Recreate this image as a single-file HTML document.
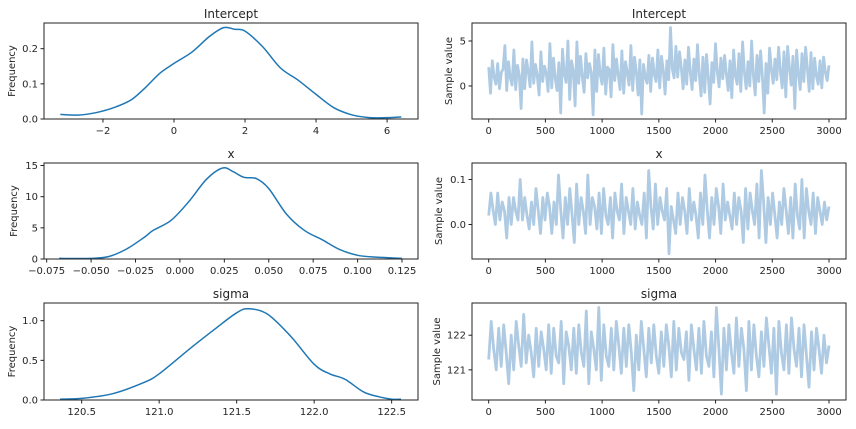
<!DOCTYPE html>
<html><head><meta charset="utf-8"><style>
body{margin:0;background:#fff;width:856px;height:424px;overflow:hidden}
svg text{font-family:"DejaVu Sans","Liberation Sans",sans-serif;fill:#262626}
</style></head><body>
<svg id="fig" width="856" height="424" xmlns="http://www.w3.org/2000/svg"></svg>
<script>
// KDE data
const kdeInterceptX=[-3.2,-2.7,-2.2,-1.7,-1.2,-0.8,-0.4,0,0.5,1,1.4,1.7,2,2.5,3,3.5,4,4.5,5,5.5,6,6.4];
const kdeInterceptY=[0.013,0.011,0.018,0.032,0.055,0.09,0.13,0.158,0.19,0.235,0.26,0.255,0.25,0.205,0.145,0.11,0.07,0.032,0.012,0.004,0.004,0.006];
const kdeXX=[-0.068,-0.05,-0.04,-0.03,-0.02,-0.015,-0.005,0.005,0.015,0.024,0.03,0.036,0.043,0.05,0.06,0.07,0.08,0.09,0.1,0.11,0.125];
const kdeXY=[0.1,0.1,0.4,1.6,3.5,4.6,6.2,9.2,12.8,14.6,14.0,13.1,12.9,11.3,7.2,4.6,3.1,1.5,0.6,0.3,0.1];
const kdeSigmaX=[120.36,120.5,120.7,120.9,121.0,121.2,121.35,121.5,121.58,121.7,121.85,122.0,122.1,122.2,122.32,122.42,122.5,122.56];
const kdeSigmaY=[0.01,0.02,0.08,0.22,0.33,0.65,0.88,1.1,1.15,1.08,0.8,0.45,0.33,0.26,0.1,0.04,0.01,0.01];
// Trace data (thinned samples)
const traceIntercept=[2.1,-0.8,2.8,1.0,0.2,2.5,-0.3,1.5,1.9,4.5,-0.5,2.7,0.9,0.1,4.0,-0.4,2.3,1.2,-2.5,3.0,
-0.3,2.9,1.6,-0.1,4.9,0.3,2.4,1.1,-1.0,3.8,0.5,2.2,1.4,-0.6,4.7,-0.2,3.1,0.8,-0.5,2.6,
-3.0,4.1,1.3,0.4,5.0,-1.5,2.8,1.7,-2.2,4.9,0.3,3.3,1.0,-0.7,3.6,0.9,2.5,1.5,-3.2,4.0,
-0.6,3.5,1.2,0.2,4.2,-0.9,2.1,1.8,-1.2,4.6,0.6,3.0,1.1,-0.4,3.9,-0.8,2.7,1.4,0.1,4.5,
-0.5,3.2,1.6,-1.0,2.9,-3.1,2.4,1.0,0.3,3.4,-0.6,3.1,1.3,0.5,4.0,-0.2,3.3,1.7,-0.9,2.8,
0.7,6.5,1.9,0.9,4.4,1.0,3.8,2.0,-0.3,2.9,0.2,4.3,1.5,-0.4,3.0,0.6,4.6,1.2,-1.1,3.2,
-0.7,3.5,1.0,-2.0,2.6,0.4,4.7,1.6,-0.1,3.1,0.8,3.4,1.3,-0.5,2.8,-1.3,4.0,1.1,0.2,3.6,
-0.6,4.9,1.5,-0.3,2.7,0.0,5.0,1.2,-1.0,3.4,0.5,3.9,1.0,-3.0,2.5,-0.8,4.2,1.8,0.3,3.0,
0.7,4.3,1.6,-0.2,3.8,-1.2,4.4,2.0,0.1,3.3,-2.5,4.0,1.4,-0.4,3.6,0.5,4.3,1.9,-0.6,3.7,
-0.3,3.1,1.1,0.2,2.8,-0.2,3.2,1.5,0.6,2.3];
const traceX=[0.02,0.07,0.03,0.0,0.07,0.01,0.05,0.03,-0.03,0.06,0.0,0.06,0.03,0.01,0.1,0.01,0.06,0.02,-0.01,0.05,
0.0,0.08,0.03,-0.02,0.06,0.01,0.07,0.04,-0.02,0.05,0.0,0.11,0.03,-0.03,0.06,0.0,0.08,0.02,-0.04,0.09,
0.0,0.06,0.03,-0.02,0.11,0.0,0.06,0.04,-0.01,0.07,-0.02,0.08,0.02,0.0,0.06,-0.03,0.07,0.03,0.01,0.09,
-0.02,0.06,0.03,0.0,0.08,-0.01,0.05,0.02,0.0,0.07,-0.03,0.12,0.04,-0.01,0.09,0.0,0.06,0.03,0.01,0.08,
-0.065,0.04,0.01,-0.02,0.07,0.0,0.06,0.03,-0.02,0.08,0.01,0.05,0.02,-0.03,0.07,0.0,0.11,0.03,-0.03,0.06,
0.0,0.08,0.04,-0.02,0.09,0.01,0.05,0.02,-0.01,0.07,0.0,0.06,0.03,-0.04,0.08,-0.01,0.07,0.03,0.0,0.09,
-0.03,0.12,0.05,-0.04,0.06,0.0,0.07,0.02,-0.03,0.05,0.0,0.08,0.03,-0.02,0.06,-0.03,0.09,0.02,-0.01,0.1,
-0.03,0.08,0.03,0.0,0.07,-0.02,0.06,0.03,0.0,0.05,0.01,0.04];
const traceSigma=[121.3,122.4,121.6,121.0,122.2,121.1,122.3,121.5,120.6,122.0,121.0,122.4,121.7,121.1,122.6,121.2,122.0,121.5,120.8,122.2,
121.1,122.1,121.6,121.0,122.3,120.9,122.2,121.4,121.2,122.4,120.6,122.1,121.7,121.0,122.2,120.9,122.3,121.5,121.1,122.7,
120.6,122.1,121.6,121.0,122.8,120.7,122.3,121.4,121.1,122.2,121.0,122.4,121.7,120.9,122.2,121.1,122.3,121.5,120.4,122.0,
121.0,122.4,121.6,120.8,122.2,121.2,122.3,121.4,120.9,122.1,121.1,122.3,121.7,120.8,122.4,121.0,122.2,121.5,121.3,122.1,
120.7,122.3,121.6,121.0,122.2,120.9,122.4,121.4,121.1,122.1,120.8,122.8,121.6,120.3,122.2,121.0,122.3,121.5,120.9,122.5,
121.1,122.2,121.6,120.4,122.4,121.0,122.3,121.4,120.8,122.1,121.1,122.5,121.7,120.9,122.2,120.3,122.4,121.5,121.0,122.3,
120.9,122.5,121.6,121.1,122.2,120.8,122.3,121.4,120.5,122.1,121.0,122.2,121.6,120.9,122.0,121.2,121.7];
// Tick labels
const ticksIntercept=[-2,0,2,4,6], yticksIntercept=[0.0,0.1,0.2];
const ticksX=[-0.075,-0.05,-0.025,0,0.025,0.05,0.075,0.1,0.125], yticksX=[0,5,10,15];
const ticksSigma=[120.5,121.0,121.5,122.0,122.5], yticksSigma=[0.0,0.5,1.0];
const ticksIter=[0,500,1000,1500,2000,2500,3000];
const yticksTrI=[0,5], yticksTrX=[0.0,0.1], yticksTrS=[121,122];

const NS="http://www.w3.org/2000/svg", svg=document.getElementById('fig');
function mk(tag,attrs,parent){const e=document.createElementNS(NS,tag);for(const k in attrs)e.setAttribute(k,attrs[k]);(parent||svg).appendChild(e);return e;}
function smoothPath(P){
  let d='M'+P[0][0].toFixed(1)+' '+P[0][1].toFixed(1);
  for(let i=0;i<P.length-1;i++){
    const p0=P[Math.max(0,i-1)],p1=P[i],p2=P[i+1],p3=P[Math.min(P.length-1,i+2)];
    const c1=[p1[0]+(p2[0]-p0[0])/6,p1[1]+(p2[1]-p0[1])/6];
    const c2=[p2[0]-(p3[0]-p1[0])/6,p2[1]-(p3[1]-p1[1])/6];
    d+=`C${c1[0].toFixed(1)} ${c1[1].toFixed(1)} ${c2[0].toFixed(1)} ${c2[1].toFixed(1)} ${p2[0].toFixed(1)} ${p2[1].toFixed(1)}`;
  }
  return d;
}
let clipN=0;
function panel(o){
  const g=mk('g',{});
  
  
  const sx=v=>o.x0+(v-o.xmin)/(o.xmax-o.xmin)*(o.x1-o.x0);
  const sy=v=>o.y1-(v-o.ymin)/(o.ymax-o.ymin)*(o.y1-o.y0);
  const cid='clip'+(clipN++);
  const cp=mk('clipPath',{id:cid},g);
  mk('rect',{x:o.x0,y:o.y0,width:o.x1-o.x0,height:o.y1-o.y0},cp);
  const P=o.xs.map((xv,i)=>[sx(xv),sy(o.ys[i])]);
  let d;
  if(o.smooth) d=smoothPath(P);
  else d=P.map((p,i)=>(i?'L':'M')+p[0].toFixed(1)+' '+p[1].toFixed(1)).join('');
  const p=mk('path',{d:d,fill:'none',stroke:o.color,'stroke-width':o.sw,'stroke-linejoin':'round','clip-path':`url(#${cid})`},g);
  
  
  const r=mk('rect',{x:o.x0,y:o.y0,width:o.x1-o.x0,height:o.y1-o.y0,fill:'none',stroke:'#222','stroke-width':1},g);
  
  
  o.xt.forEach(t=>{const X=sx(t);mk('line',{x1:X,x2:X,y1:o.y1,y2:o.y1+3.5,stroke:'#222'},g);
    const tx=mk('text',{x:X,y:o.y1+15,'font-size':10,'text-anchor':'middle'},g);
    
    
    tx.textContent=o.fx(t);});
  o.yt.forEach(t=>{const Y=sy(t);mk('line',{x1:o.x0-3.5,x2:o.x0,y1:Y,y2:Y,stroke:'#222'},g);
    const tx=mk('text',{x:o.x0-6,y:Y+3.5,'font-size':10,'text-anchor':'end'},g);
    
    
    tx.textContent=o.fy(t);});
  const ti=mk('text',{x:(o.x0+o.x1)/2,y:o.y0-5,'font-size':12,'text-anchor':'middle'},g);
  
  
  ti.textContent=o.title;
  const yl=mk('text',{x:0,y:0,'font-size':10,'text-anchor':'middle',transform:`translate(${o.ylx},${(o.y0+o.y1)/2}) rotate(-90)`},g);
  
  
  yl.textContent=o.ylabel;
}
const minus=s=>String(s).replace('-','\u2212');
const iter=a=>a.map((_,i)=>i*3000/(a.length-1));
const KC='#1f77b4', TC='#aecbe3';
panel({name:'intercept-kde',smooth:true,sw:1.5,x0:44,x1:418,xmin:-3.66,xmax:6.87,y0:23,y1:119,ymin:0,ymax:0.273,xs:kdeInterceptX,ys:kdeInterceptY,color:KC,xt:ticksIntercept,yt:yticksIntercept,fx:t=>minus(t),fy:t=>t.toFixed(1),title:'Intercept',ylabel:'Frequency',ylx:15});
panel({name:'x-kde',smooth:true,sw:1.5,x0:44,x1:418,xmin:-0.0765,xmax:0.134,y0:163,y1:259,ymin:0,ymax:15.4,xs:kdeXX,ys:kdeXY,color:KC,xt:ticksX,yt:yticksX,fx:t=>minus(t.toFixed(3)),fy:t=>String(t),title:'x',ylabel:'Frequency',ylx:17});
panel({name:'sigma-kde',smooth:true,sw:1.5,x0:44,x1:418,xmin:120.257,xmax:122.67,y0:303,y1:400,ymin:0,ymax:1.223,xs:kdeSigmaX,ys:kdeSigmaY,color:KC,xt:ticksSigma,yt:yticksSigma,fx:t=>t.toFixed(1),fy:t=>t.toFixed(1),title:'sigma',ylabel:'Frequency',ylx:15});
panel({name:'intercept-trace',sw:2.8,x0:472,x1:846,xmin:-147,xmax:3150,y0:23,y1:119,ymin:-3.67,ymax:7,xs:iter(traceIntercept),ys:traceIntercept,color:TC,xt:ticksIter,yt:yticksTrI,fx:t=>String(t),fy:t=>String(t),title:'Intercept',ylabel:'Sample value',ylx:452});
panel({name:'x-trace',sw:2.8,x0:472,x1:846,xmin:-147,xmax:3150,y0:163,y1:259,ymin:-0.0767,ymax:0.1367,xs:iter(traceX),ys:traceX,color:TC,xt:ticksIter,yt:yticksTrX,fx:t=>String(t),fy:t=>t.toFixed(1),title:'x',ylabel:'Sample value',ylx:442});
panel({name:'sigma-trace',sw:2.8,x0:472,x1:846,xmin:-147,xmax:3150,y0:303,y1:400,ymin:120.13,ymax:122.93,xs:iter(traceSigma),ys:traceSigma,color:TC,xt:ticksIter,yt:yticksTrS,fx:t=>String(t),fy:t=>String(t),title:'sigma',ylabel:'Sample value',ylx:440});
</script>
</body></html>
